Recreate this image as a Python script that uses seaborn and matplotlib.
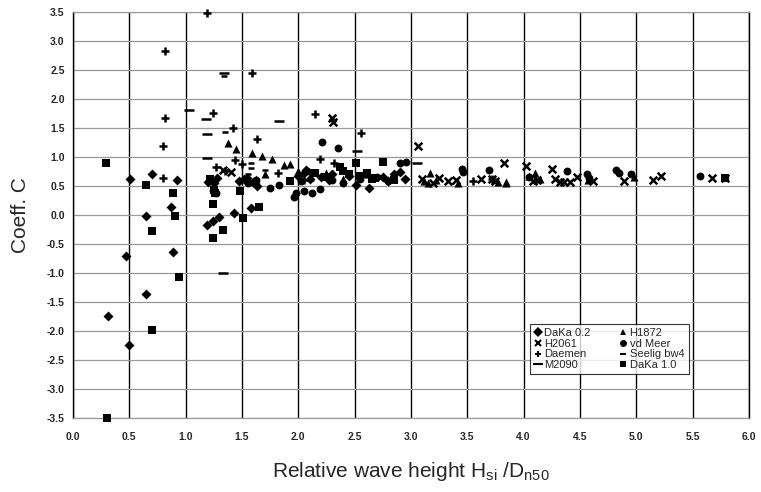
import pandas as pd
import matplotlib
matplotlib.use("Agg")
import matplotlib.pyplot as plt
import seaborn as sns
from matplotlib.lines import Line2D

# === data ===
daka02_x = [0.31, 0.47, 0.50, 0.51, 0.65, 0.65, 0.70, 0.87, 0.89, 0.92, 1.19, 1.24, 1.30, 1.43,
            1.58, 1.22, 1.25, 1.28, 1.47, 1.52, 1.60, 1.63, 2.00, 2.05, 2.10, 2.20, 2.30, 2.45,
            2.51, 2.63, 2.75, 2.85, 2.95, 1.20, 1.54, 2.07, 2.27, 2.80, 2.90]
daka02_y = [-1.74, -0.70, -2.24, 0.62, -1.36, -0.02, 0.70, 0.14, -0.63, 0.60, -0.18, -0.11, -0.04,
            0.03, 0.12, 0.60, 0.55, 0.63, 0.58, 0.62, 0.56, 0.50, 0.68, 0.72, 0.62, 0.65, 0.70,
            0.68, 0.51, 0.47, 0.66, 0.70, 0.62, 0.56, 0.64, 0.78, 0.60, 0.58, 0.74]

h2061_x = [1.33, 2.30, 2.31, 3.06, 3.10, 3.25, 3.33, 3.40, 3.62, 3.72, 3.75, 3.83, 4.02, 4.08,
           4.12, 4.25, 4.28, 4.32, 4.36, 4.41, 4.47, 4.62, 4.89, 5.15, 5.22, 5.67, 5.79, 1.40, 3.20]
h2061_y = [0.78, 1.67, 1.60, 1.18, 0.62, 0.64, 0.58, 0.60, 0.62, 0.62, 0.58, 0.89, 0.84, 0.58,
           0.60, 0.79, 0.62, 0.57, 0.56, 0.56, 0.66, 0.58, 0.59, 0.60, 0.67, 0.63, 0.63, 0.74, 0.55]

daemen_x = [0.80, 0.82, 0.82, 0.80, 1.19, 1.24, 1.42, 1.59, 1.635, 1.44, 1.27, 1.50, 1.82, 2.15,
            2.56, 2.19, 2.32, 3.55, 3.72, 1.35, 2.05]
daemen_y = [0.64, 2.83, 1.67, 1.18, 3.48, 1.76, 1.50, 2.45, 1.31, 0.95, 0.83, 0.87, 0.73, 1.74,
            1.41, 0.96, 0.90, 0.58, 0.62, 0.75, 0.60]

m2090_x = [1.03, 1.18, 1.19, 1.33, 1.19, 1.83, 2.52, 3.05, 1.34]
m2090_y = [1.81, 1.65, 1.39, -1.00, 0.99, 1.62, 1.11, 0.89, 2.45]

h1872_x = [1.38, 1.45, 1.59, 1.675, 1.77, 1.87, 1.93, 1.62, 1.70, 2.00, 2.10, 2.25, 2.60, 3.12,
           3.17, 3.22, 3.42, 3.77, 3.84, 3.84, 4.05, 4.15, 4.57, 4.98, 2.85, 2.40, 3.15, 4.10]
h1872_y = [1.24, 1.13, 1.06, 1.01, 0.96, 0.86, 0.87, 0.62, 0.70, 0.75, 0.65, 0.72, 0.70, 0.58,
           0.72, 0.60, 0.55, 0.56, 0.56, 0.55, 0.68, 0.62, 0.60, 0.66, 0.66, 0.62, 0.55, 0.72]

vdmeer_x = [1.75, 1.83, 1.96, 1.98, 2.05, 2.12, 2.19, 2.21, 2.35, 2.90, 2.96, 3.45, 3.46, 3.69,
            4.39, 4.56, 4.82, 4.95, 5.57, 1.24, 1.27, 1.55, 1.62, 2.02, 2.08, 2.30, 2.40, 2.55,
            2.70, 2.80, 4.85, 4.58, 4.05]
vdmeer_y = [0.46, 0.51, 0.31, 0.38, 0.42, 0.38, 0.44, 1.25, 1.16, 0.90, 0.92, 0.80, 0.74, 0.78,
            0.75, 0.70, 0.78, 0.70, 0.68, 0.43, 0.38, 0.55, 0.60, 0.58, 0.75, 0.60, 0.55, 0.62,
            0.65, 0.58, 0.72, 0.64, 0.66]

seelig_x = [1.35, 1.58, 1.58, 1.34, 1.55, 1.70, 2.60]
seelig_y = [1.43, 0.90, 0.81, 2.40, 0.70, 0.78, 0.68]

daka10_x = [0.29, 0.30, 0.645, 0.70, 0.70, 0.89, 0.905, 0.94, 1.24, 1.24, 1.33, 1.25, 1.26, 1.48,
            1.51, 1.65, 1.93, 2.37, 2.45, 2.51, 2.61, 2.75, 2.15, 2.25, 2.55, 2.68, 2.85, 1.22,
            2.40, 2.65, 5.79]
daka10_y = [0.89, -3.50, 0.51, -0.27, -1.98, 0.385, -0.01, -1.06, -0.40, 0.19, -0.26, 0.43, 0.38,
            0.42, -0.05, 0.14, 0.59, 0.83, 0.70, 0.89, 0.72, 0.91, 0.72, 0.66, 0.68, 0.64, 0.60,
            0.62, 0.76, 0.62, 0.63]

series = [
    ("DaKa 0.2", daka02_x, daka02_y, "D", 26),
    ("H2061", h2061_x, h2061_y, "x", 30),
    ("Daemen", daemen_x, daemen_y, "+", 36),
    ("M2090", m2090_x, m2090_y, "_", 60),
    ("H1872", h1872_x, h1872_y, "^", 34),
    ("vd Meer", vdmeer_x, vdmeer_y, "o", 32),
    ("Seelig bw4", seelig_x, seelig_y, "_", 20),
    ("DaKa 1.0", daka10_x, daka10_y, "s", 28),
]

frames = [pd.DataFrame({"x": xs, "y": ys, "series": name}) for name, xs, ys, _, _ in series]
df = pd.concat(frames, ignore_index=True)

# === plot ===
sns.set_style("white")
plt.rcParams["font.family"] = ["Liberation Sans", "DejaVu Sans"]

fig = plt.figure(figsize=(7.61, 4.92), dpi=100)
ax = fig.add_axes([0.096, 0.150, 0.888, 0.826])

for name, _, _, mk, size in series:
    sub = df[df["series"] == name]
    lw = 1.8 if mk in ("x", "+", "_") else 0
    sns.scatterplot(data=sub, x="x", y="y", ax=ax, marker=mk, s=size, color="black",
                    edgecolor="black", linewidth=lw, legend=False, zorder=3, clip_on=False)

ax.set_xlim(0, 6)
ax.set_ylim(-3.5, 3.5)
ax.set_xticks([i * 0.5 for i in range(13)])
ax.set_yticks([-3.5 + i * 0.5 for i in range(15)])
ax.set_xticklabels([f"{i * 0.5:.1f}" for i in range(13)], fontsize=7.5, fontweight="bold")
ax.set_yticklabels([f"{-3.5 + i * 0.5:.1f}" for i in range(15)], fontsize=7.5, fontweight="bold")
ax.tick_params(length=0, pad=10)
ax.tick_params(axis="y", pad=6)

ax.xaxis.grid(True, color="black", linewidth=1.0)
ax.yaxis.grid(True, color="#9a9a9a", linewidth=0.9)
ax.set_axisbelow(True)
for side in ("left", "right"):
    ax.spines[side].set_color("black")
    ax.spines[side].set_linewidth(1.0)
for side in ("top", "bottom"):
    ax.spines[side].set_color("#9a9a9a")
    ax.spines[side].set_linewidth(0.9)

ax.set_xlabel("Relative wave height H$_{\\mathregular{si}}$ /D$_{\\mathregular{n50}}$",
              fontsize=15, labelpad=13)
ax.set_ylabel("Coeff. C", fontsize=15, labelpad=12)

handles = []
for name, _, _, mk, size in series:
    ms = 5 if mk != "_" else (7 if name == "M2090" else 4)
    handles.append(Line2D([], [], linestyle="none", marker=mk, color="black",
                          markersize=ms, markeredgewidth=1.5 if mk in ("x", "+", "_") else 0))
leg = ax.legend(handles, [s[0] for s in series], ncol=2, loc="upper left",
                bbox_to_anchor=(0.676, 0.232), fontsize=8, frameon=True, fancybox=False,
                borderpad=0.4, labelspacing=0.05, handlelength=0.6, handletextpad=0.3,
                columnspacing=2.6, borderaxespad=0)
leg.get_frame().set_edgecolor("black")
leg.get_frame().set_linewidth(0.8)

fig.savefig("out.png", dpi=100)
